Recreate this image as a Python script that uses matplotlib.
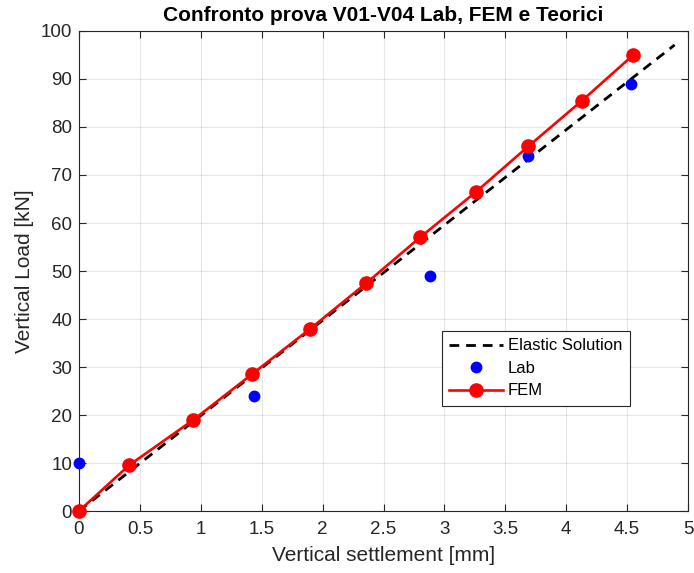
import numpy as np
import matplotlib.pyplot as plt

plt.rcParams['font.family'] = ['Liberation Sans', 'DejaVu Sans']

# elastic solution (straight line)
elastic_x = [0.0, 4.89]
elastic_y = [0.0, 97.1]

# laboratory tests
lab_x = [0.0, 1.44, 2.88, 3.69, 4.53]
lab_y = [10.0, 24.0, 49.0, 74.0, 89.0]

# FEM model
fem_x = [0.0, 0.41, 0.94, 1.42, 1.90, 2.36, 2.80, 3.26, 3.69, 4.13, 4.55]
fem_y = [0.0, 9.5, 19.0, 28.5, 38.0, 47.5, 57.0, 66.5, 76.0, 85.5, 95.0]

axcol = '#262626'

fig = plt.figure(figsize=(6.94, 5.73), dpi=100)
ax = fig.add_axes([0.1138, 0.1082, 0.8776, 0.8377])

ax.plot(elastic_x, elastic_y, '--', color='k', lw=2.0, dashes=(3.5, 2.5),
        label='Elastic Solution', zorder=3)
ax.plot(lab_x, lab_y, 'o', color='#0000ff', ms=7.5, label='Lab',
        zorder=4, clip_on=False)
ax.plot(fem_x, fem_y, 'o-', color='#ff0000', lw=1.9, ms=9.5, label='FEM',
        zorder=5, clip_on=False)

ax.set_xlim(0, 5)
ax.set_ylim(0, 100)
ax.set_xticks(np.arange(0, 5.01, 0.5))
ax.set_xticklabels(['0', '0.5', '1', '1.5', '2', '2.5', '3', '3.5', '4', '4.5', '5'])
ax.set_yticks(np.arange(0, 101, 10))

ax.grid(True, color='#262626', alpha=0.11, lw=0.8)
ax.set_axisbelow(True)
ax.tick_params(direction='in', top=True, right=True, length=5,
               color=axcol, labelcolor=axcol, labelsize=13.5, width=0.8)
ax.tick_params(axis='x', pad=7)
ax.tick_params(axis='y', pad=5)
for s in ax.spines.values():
    s.set_color(axcol)
    s.set_linewidth(0.8)

ax.set_xlabel('Vertical settlement [mm]', fontsize=15, color=axcol, labelpad=6)
ax.set_ylabel('Vertical Load [kN]', fontsize=15, color=axcol, labelpad=5)
ax.set_title('Confronto prova V01-V04 Lab, FEM e Teorici', fontsize=15,
             fontweight='bold', color='k', pad=7)

leg = ax.legend(loc='lower left', bbox_to_anchor=(0.596, 0.219, 0.309, 0.162),
                mode='expand', fontsize=12, fancybox=False, framealpha=1,
                edgecolor=axcol, borderpad=0.45, labelspacing=0.45,
                handlelength=3.2, handletextpad=0.3, borderaxespad=0)
leg.get_frame().set_linewidth(0.8)

fig.savefig('out.png', dpi=100)
